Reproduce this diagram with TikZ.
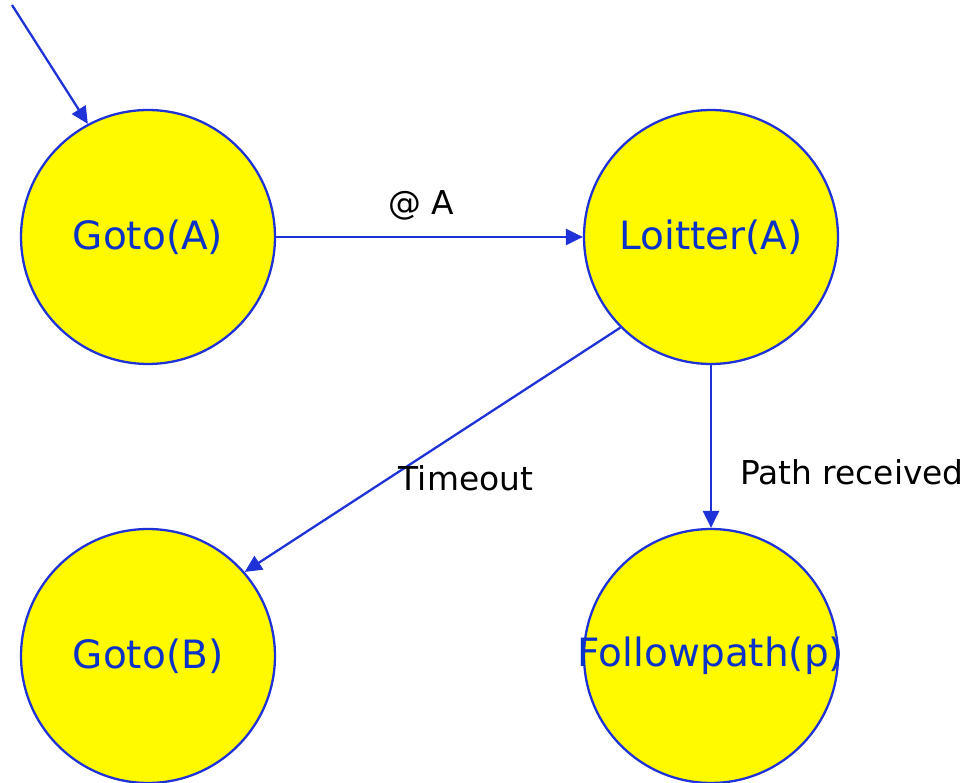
\documentclass[tikz,border=0pt]{standalone}
\usepackage{fontspec}
\setmainfont{DejaVu Sans}
\usetikzlibrary{arrows.meta}
\definecolor{edgeblue}{RGB}{30,50,215}
\definecolor{nameblue}{RGB}{10,50,200}
\definecolor{stateyellow}{RGB}{255,250,0}
\def\wide#1{\makebox[0pt]{#1}}

\begin{document}
\begin{tikzpicture}[x=0.02cm,y=-0.02cm,
  state/.style={circle,draw=edgeblue,fill=stateyellow,line width=1.3pt,
    minimum size=5.08cm,inner sep=0pt,text=nameblue,
    font=\fontsize{22.2}{24}\selectfont},
  trans/.style={draw=edgeblue,line width=1.3pt,
    -{Triangle[length=0.34cm,width=0.32cm]}},
  lbl/.style={font=\fontsize{18.7}{22}\selectfont}]
\useasboundingbox (0,0) rectangle (970,783);
%states
\node[state] (gotoA) at (148,237) {\wide{Goto(A)}};
\node[state] (loitA) at (711,237) {\wide{Loitter(A)}};
\node[state] (gotoB) at (148,656) {\wide{Goto(B)}};
\node[state] (follow) at (711,656) {\wide{Followpath(p)}};
%start
\coordinate (start) at (12,5);
\draw[trans] (start) -- (gotoA.118);
%transitions
\draw[trans] (gotoA) -- (loitA);
\draw[trans] (loitA.225) -- (gotoB.41);
\draw[trans] (loitA) -- (follow);
%labels
\node[lbl] at (421,205) {@ A};
\node[lbl] at (466,478) {Timeout};
\node[lbl] at (852,472) {Path received};
\end{tikzpicture}
\end{document}
